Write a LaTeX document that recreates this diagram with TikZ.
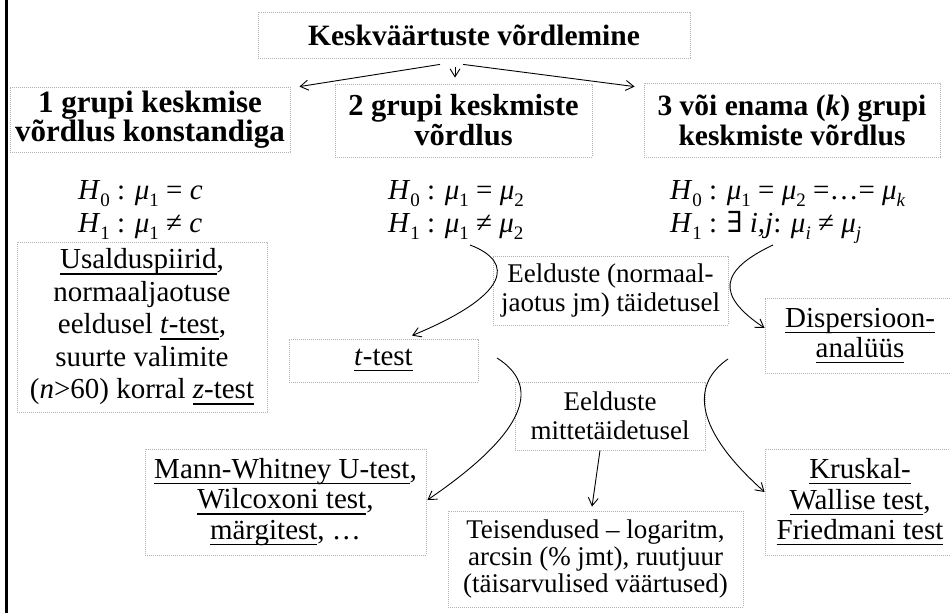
\documentclass[tikz,border=0pt]{standalone}
\usepackage{fontspec}
\setmainfont{Liberation Serif}
\newfontfamily\dvs{DejaVu Serif}
\usetikzlibrary{arrows.meta}
\newcommand\sbs[1]{\raisebox{-0.25em}{\fontsize{19}{19}\selectfont #1}}
\newsavebox\unbox
\newcommand\und[1]{\sbox\unbox{#1}\leavevmode\rlap{\rule[-5.6pt]{\wd\unbox}{1.1pt}}\usebox\unbox}
\begin{document}
\begin{tikzpicture}[x=1pt,y=1pt,
  bx/.style={draw=gray!60, line width=0.8pt, dash pattern=on 0.8pt off 1.2pt, inner sep=0pt, align=center},
  head/.style 2 args={font=\fontsize{#1}{#2}\selectfont\bfseries},
  body/.style={font=\fontsize{29}{#1}\selectfont},
  lbl/.style={font=\fontsize{27}{#1}\selectfont},
  hyp/.style={anchor=base west, inner sep=0pt, font=\fontsize{29}{30}\selectfont},
  arr/.style={-{Straight Barb[length=8pt,width=10pt]}, line width=0.9pt}
]
\clip (0,0) rectangle (950,-613);
\fill[white] (0,0) rectangle (950,-613);
\draw[line width=3pt] (6.5,0) -- (6.5,-613);

% top
\node[bx, head={29.5}{30}, minimum width=432, minimum height=46] (title) at (474,-35) {Keskväärtuste võrdlemine};
\node[bx, head={31}{26}, minimum width=280, minimum height=65] (b1) at (150,-119.5) {1 grupi keskmise\\võrdlus konstandiga};
\node[bx, head={30.5}{30}, minimum width=257, minimum height=73] (b2) at (463.5,-120.5) {2 grupi keskmiste\\võrdlus};
\node[bx, head={29.5}{30}, minimum width=296, minimum height=74] (b3) at (792,-120) {3 või enama (\textit{k}) grupi\\keskmiste võrdlus};

% hypotheses
\node[hyp] (h10) at (78,-199) {\textit{H}\sbs{0} : \textit{μ}\sbs{1} = \textit{c}};
\node[hyp] (h11) at (78,-232) {\textit{H}\sbs{1} : \textit{μ}\sbs{1} ≠ \textit{c}};
\node[hyp] (h20) at (388,-199) {\textit{H}\sbs{0} : \textit{μ}\sbs{1} = \textit{μ}\sbs{2}};
\node[hyp] (h21) at (388,-232) {\textit{H}\sbs{1} : \textit{μ}\sbs{1} ≠ \textit{μ}\sbs{2}};
\node[hyp] (h30) at (670,-199) {\textit{H}\sbs{0} : \textit{μ}\sbs{1} = \textit{μ}\sbs{2} =…= \textit{μ}\sbs{\textit{k}}};
\node[hyp] (h31) at (670,-232) {\textit{H}\sbs{1} : {\dvs ∃} \textit{i,j}: \textit{μ}\sbs{\textit{i}} ≠ \textit{μ}\sbs{\textit{j}}};

% boxes
\node[bx, body=32.5, minimum width=250, minimum height=170] (usal) at (142,-327)
  {\und{Usalduspiirid},\\normaaljaotuse\\eeldusel \und{\textit{t}-test},\\suurte valimite\\(\textit{n}>60) korral \und{\textit{z}-test}};
\node[bx, body=30, minimum width=189, minimum height=43] (ttest) at (383.5,-360.5) {\und{\textit{t}-test}};
\node[bx, lbl=29, minimum width=235, minimum height=69] (eeld1) at (610.5,-290.5) {Eelduste (normaal-\\jaotus jm) täidetusel};
\node[bx, body=30, minimum width=190, minimum height=75] (disp) at (860,-335.5) {\und{Dispersioon-}\\\und{analüüs}};
\node[bx, lbl=29, minimum width=190, minimum height=68] (eeld2) at (610,-416) {Eelduste\\mittetäidetusel};
\node[bx, body=30.5, minimum width=281, minimum height=106] (mann) at (285.5,-502)
  {\und{Mann-Whitney U-test},\\\und{Wilcoxoni test},\\\und{märgitest}, …};
\node[bx, lbl=27, minimum width=295, minimum height=96] (teis) at (595.5,-559)
  {Teisendused – logaritm,\\arcsin (\% jmt), ruutjuur\\(täisarvulised väärtused)};
\node[bx, body=30.5, minimum width=190, minimum height=106] (krus) at (860,-502)
  {\und{Kruskal-}\\\und{Wallise test},\\\und{Friedmani test}};

% connectors
\coordinate (c1) at (470,-245);
\coordinate (c2) at (773,-245);
\coordinate (c3) at (497,-358);
\coordinate (c4) at (728,-359);
\draw[arr] ([xshift=-34pt,yshift=-6pt]title.south) -- ([xshift=9pt]b1.north east);
\draw[arr] ([xshift=-19pt,yshift=-9pt]title.south) -- ([xshift=-8.5pt,yshift=6pt]b2.north);
\draw[arr] ([xshift=-11pt,yshift=-6pt]title.south) -- ([xshift=-9pt,yshift=-4pt]b3.north west);
\draw[arr] (c1) .. controls (515,-262) and (510,-295) .. ([xshift=28.5pt,yshift=3pt]ttest.north);
\draw[arr] (c2) .. controls (720,-270) and (715,-295) .. ([yshift=7.5pt]disp.west);
\draw[arr] (c3) .. controls (540,-385) and (530,-430) .. ([xshift=1pt,yshift=2pt]mann.east);
\draw[arr] (c4) .. controls (690,-385) and (695,-430) .. ([yshift=10pt]krus.west);
\draw[arr] ([xshift=-10pt]eeld2.south) -- ([xshift=-3.5pt,yshift=4pt]teis.north);
\end{tikzpicture}
\end{document}
